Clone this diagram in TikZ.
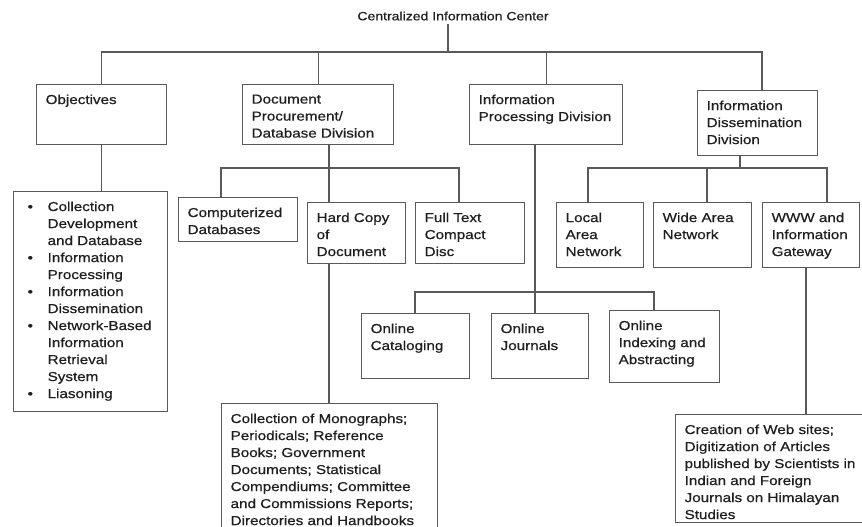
\documentclass[tikz,border=0pt]{standalone}
\usepackage{fontspec}
\setmainfont[FakeStretch=1.17, FakeBold=0.6]{Liberation Sans}
\definecolor{linegray}{gray}{0.35}
\definecolor{textgray}{gray}{0.12}
% text block of fixed size, set from the top left
\newcommand{\boxtext}[3]{\parbox[c][#2][t]{#1}{\raggedright #3}}
% bullet item with hanging lines
\newcommand{\orgitem}{\par\hangindent=25pt\hangafter=1\noindent\makebox[25pt][l]{\hspace{5pt}\textbullet}}
\tikzset {
  % connector between boxes
  link/.style = {
    draw = linegray,
    line width = 1.3pt
  },
  % division or unit box
  orgbox/.style = {
    draw = linegray,
    line width = 1.3pt,
    rectangle,
    anchor = north west,
    inner xsep = 9pt,
    inner ysep = 10pt,
    text = textgray,
    font = \fontsize{13pt}{17pt}\selectfont
  },
  % heading of the chart
  chart title/.style = {
    text = textgray,
    font = \fontsize{12pt}{14pt}\selectfont
  }
}
\begin{document}
\begin{tikzpicture}[x = 1pt, y = -1pt]
  \path[fill = white, use as bounding box] (0,0) rectangle (862,527);

  \node[chart title] (title) at (453,16) {Centralized Information Center};

  % divisions
  \node[orgbox] (objectives) at (36,84) {\boxtext{112pt}{40pt}{Objectives}};
  \node[orgbox] (docdiv) at (242,84) {\boxtext{133pt}{40pt}{Document\\ Procurement/\\ Database Division}};
  \node[orgbox] (procdiv) at (469,84) {\boxtext{135pt}{40pt}{Information\\ Processing Division}};
  \node[orgbox] (dissdiv) at (697,90) {\boxtext{102pt}{45pt}{Information\\ Dissemination\\ Division}};

  % objectives list
  \node[orgbox] (objlist) at (13,191) {\boxtext{136pt}{200pt}{%
    \orgitem Collection\newline Development\newline and Database
    \orgitem Information\newline Processing
    \orgitem Information\newline Dissemination
    \orgitem Network-Based\newline Information\newline Retrieval\newline System
    \orgitem Liasoning}};

  % document procurement units
  \node[orgbox] (compdb) at (178,197) {\boxtext{101pt}{24pt}{Computerized\\ Databases}};
  \node[orgbox] (hardcopy) at (307,202) {\boxtext{80pt}{41pt}{Hard Copy\\ of\\ Document}};
  \node[orgbox] (fulltext) at (415,202) {\boxtext{91pt}{41pt}{Full Text\\ Compact\\ Disc}};
  \node[orgbox] (holdings) at (221,403) {\boxtext{198pt}{109pt}{Collection of Monographs;\\ Periodicals; Reference\\ Books; Government\\ Documents; Statistical\\ Compendiums; Committee\\ and Commissions Reports;\\ Directories and Handbooks}};

  % processing units
  \node[orgbox] (catalog) at (361,313) {\boxtext{90pt}{45pt}{Online\\ Cataloging}};
  \node[orgbox] (journals) at (491,313) {\boxtext{79pt}{45pt}{Online\\ Journals}};
  \node[orgbox] (indexing) at (609,310) {\boxtext{92pt}{52pt}{Online\\ Indexing and\\ Abstracting}};

  % dissemination units
  \node[orgbox] (lan) at (556,202) {\boxtext{69pt}{45pt}{Local\\ Area\\ Network}};
  \node[orgbox] (wan) at (653,202) {\boxtext{80pt}{45pt}{Wide Area\\ Network}};
  \node[orgbox] (gateway) at (762,202) {\boxtext{79pt}{45pt}{WWW and\\ Information\\ Gateway}};
  \node[orgbox] (websites) at (675,414) {\boxtext{173pt}{88pt}{Creation of Web sites;\\ Digitization of Articles\\ published by Scientists in\\ Indian and Foreign\\ Journals on Himalayan\\ Studies}};

  % bus lines
  \coordinate (top-drop) at (448,52);
  \coordinate (top-bus) at (762,52);
  \coordinate (doc-bus) at (329,168);
  \coordinate (doc-bus-l) at (221,168);
  \coordinate (doc-bus-r) at (459,168);
  \coordinate (proc-bus) at (535,292);
  \coordinate (proc-bus-l) at (415,292);
  \coordinate (proc-bus-r) at (654,292);
  \coordinate (diss-bus) at (740,168);
  \coordinate (diss-bus-l) at (588,168);
  \coordinate (diss-bus-m) at (707,168);
  \coordinate (diss-bus-r) at (827,168);
  \coordinate (web-drop) at (806,414);

  \draw[link] (title.south -| top-drop) -- (top-drop);
  \draw[link] (objectives.north) |- (top-bus) -- (top-bus |- dissdiv.north);
  \draw[link] (docdiv.north) -- (docdiv.north |- top-bus);
  \draw[link] (procdiv.north) -- (procdiv.north |- top-bus);
  \draw[link] (objectives.south) -- (objectives.south |- objlist.north);

  \draw[link] (doc-bus |- docdiv.south) -- (doc-bus |- hardcopy.north);
  \draw[link] (doc-bus-l |- compdb.north) |- (doc-bus-r) -- (doc-bus-r |- fulltext.north);
  \draw[link] (doc-bus |- hardcopy.south) -- (doc-bus |- holdings.north);

  \draw[link] (proc-bus |- procdiv.south) -- (proc-bus |- journals.north);
  \draw[link] (proc-bus-l |- catalog.north) |- (proc-bus-r) -- (proc-bus-r |- indexing.north);

  \draw[link] (diss-bus |- dissdiv.south) -- (diss-bus);
  \draw[link] (diss-bus-l |- lan.north) |- (diss-bus-r) -- (diss-bus-r |- gateway.north);
  \draw[link] (diss-bus-m) -- (diss-bus-m |- wan.north);
  \draw[link] (web-drop |- gateway.south) -- (web-drop |- websites.north);
\end{tikzpicture}
\end{document}
